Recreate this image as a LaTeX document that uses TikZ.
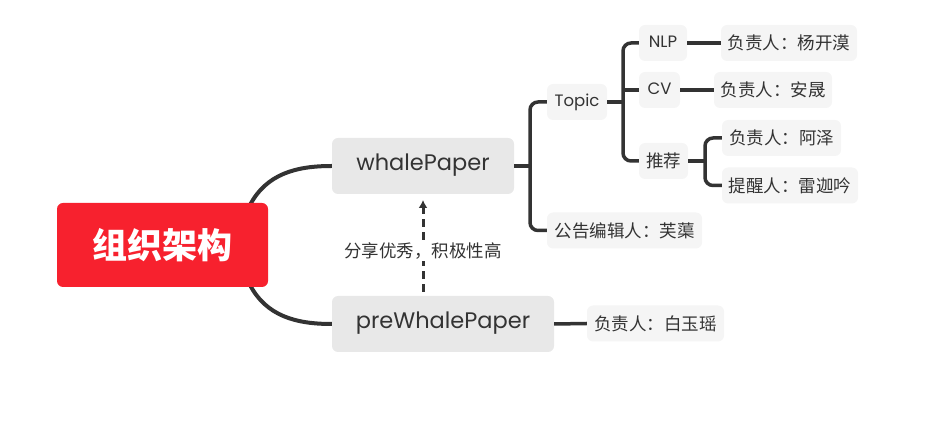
\documentclass[tikz,border=0pt]{standalone}
\usepackage{fontspec}
\setmainfont{Poppins}
\newfontfamily\cjk{Noto Sans CJK SC}
\usetikzlibrary{arrows.meta}
\definecolor{rootred}{HTML}{F7212E}
\definecolor{linec}{HTML}{333333}
\definecolor{mainfill}{HTML}{E8E8E8}
\definecolor{subfill}{HTML}{F5F5F5}
\tikzset{
  rootbox/.style={fill=rootred, rounded corners=6pt, text=white, minimum height=84pt, minimum width=211pt, inner sep=0pt, font=\cjk\bfseries\fontsize{35}{35}\selectfont},
  mainbox/.style={fill=mainfill, rounded corners=6pt, text=linec, minimum height=56pt, inner sep=0pt, text height=1.05em, text depth=0.15em, font=\fontsize{22.5}{22.5}\selectfont},
  subbox/.style={fill=subfill, rounded corners=6pt, text=linec, minimum height=36pt, inner sep=0pt, text height=1.0em, text depth=0.15em, font=\fontsize{16.5}{16.5}\selectfont},
  cjkbox/.style={fill=subfill, rounded corners=6pt, text=linec, minimum height=36pt, inner sep=0pt, font=\cjk\fontsize{17.5}{17.5}\selectfont},
  conn/.style={draw=linec, line width=4pt},
  sconn/.style={draw=linec, line width=3.5pt, rounded corners=8pt},
}
\begin{document}
\begin{tikzpicture}[x=1pt,y=-1pt]
\useasboundingbox (0,0) rectangle (940,435);
% connectors from root (behind)
\coordinate (r1) at (250,205);
\coordinate (r2) at (250,285);
\node[mainbox, minimum width=182pt] (wp) at (423,166) {whalePaper};
\node[mainbox, minimum width=222pt] (pwp) at (443,324) {preWhalePaper};
\draw[conn] (r1) to[out=62,in=180] (wp.west);
\draw[conn] (r2) to[out=-62,in=180] (pwp.west);
\node[rootbox] (root) at (162.5,245) {组织架构};

% level 2
\node[subbox, minimum width=60pt] (topic) at (577,102) {Topic};
\node[cjkbox, minimum width=155pt] (gg) at (624.5,230.5) {公告编辑人：芙蕖};
\coordinate (b1) at (530,166);
\draw[conn] (wp.east) -- (b1);
\draw[sconn] (topic.west) -| (b1) |- (gg.west);

% level 3
\node[subbox, minimum width=48pt] (nlp) at (663,43) {NLP};
\node[subbox, minimum width=41pt] (cv) at (659.5,90) {CV};
\node[cjkbox, minimum width=49pt] (tj) at (663.5,161) {推荐};
\coordinate (b2) at (623,102);
\draw[sconn] (topic.east) -- (b2);
\draw[sconn] (nlp.west) -| (b2) |- (tj.west);
\draw[sconn] (cv.west) -- (cv.west -| b2);

% level 4
\node[cjkbox, minimum width=136pt] (yk) at (789,43) {负责人：杨开漠};
\node[cjkbox, minimum width=118pt] (an) at (773,90) {负责人：安晟};
\node[cjkbox, minimum width=119pt] (az) at (781.5,138) {负责人：阿泽};
\node[cjkbox, minimum width=136pt] (lj) at (790,185.5) {提醒人：雷迦吟};
\draw[sconn] (nlp.east) -- (yk.west);
\draw[sconn] (cv.east) -- (an.west);
\coordinate (b3) at (705,161);
\draw[sconn] (tj.east) -- (b3);
\draw[sconn] (az.west) -| (b3) |- (lj.west);

% preWhalePaper child
\node[cjkbox, minimum width=137pt] (by) at (655.5,323.5) {负责人：白玉瑶};
\draw[sconn] (pwp.east) -- (by.west);

% dashed arrow
\coordinate (a1) at (423,292);
\coordinate (a2) at (423,200);
\draw[draw=linec, line width=3pt, dash pattern=on 8pt off 5pt, -{Latex[length=8pt,width=9pt]}] (a1) -- (a2)
  node[pos=0.45, fill=white, text=linec, inner sep=2pt, font=\cjk\fontsize{17.5}{17.5}\selectfont] (lab) {分享优秀，积极性高};
\end{tikzpicture}
\end{document}
